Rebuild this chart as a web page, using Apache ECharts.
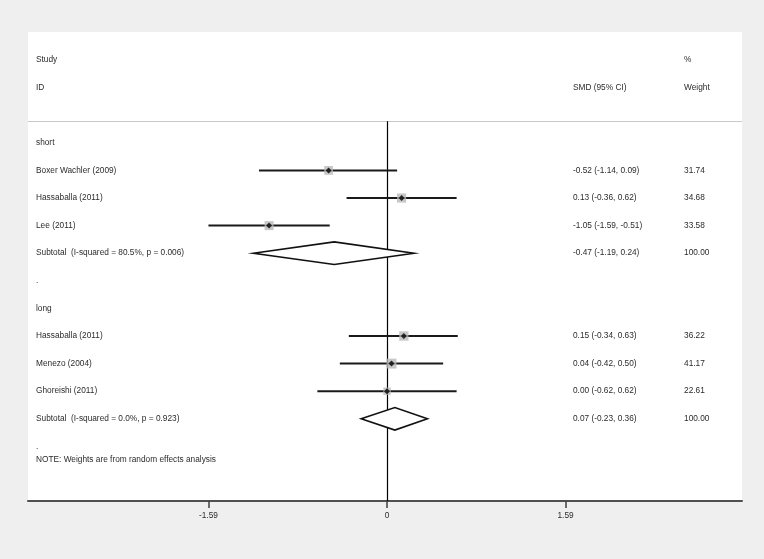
<!DOCTYPE html>
<html>
<head>
<meta charset="utf-8">
<script src="https://cdn.jsdelivr.net/npm/echarts@6/dist/echarts.min.js"></script>
<style>
  html, body { margin: 0; padding: 0; background: #efefef; }
  #chart { width: 764px; height: 559px; }
</style>
</head>
<body>
<div id="chart"></div>
<script>
// ---- data ----
const groupLabels = ["short", "long"];
const groupRows = [3, 9];

const studyLabels = ["Boxer Wachler (2009)", "Hassaballa (2011)", "Lee (2011)",
                     "Hassaballa (2011)", "Menezo (2004)", "Ghoreishi (2011)"];
const studyRows = [4, 5, 6, 10, 11, 12];
const smd = [-0.52, 0.13, -1.05, 0.15, 0.04, 0.00];
const ciLow = [-1.14, -0.36, -1.59, -0.34, -0.42, -0.62];
const ciHigh = [0.09, 0.62, -0.51, 0.63, 0.50, 0.62];
const weights = [31.74, 34.68, 33.58, 36.22, 41.17, 22.61];

const subtotalLabels = ["Subtotal  (I-squared = 80.5%, p = 0.006)",
                        "Subtotal  (I-squared = 0.0%, p = 0.923)"];
const subtotalRows = [7, 13];
const subSmd = [-0.47, 0.07];
const subLow = [-1.19, -0.23];
const subHigh = [0.24, 0.36];
const subWeight = [100.00, 100.00];

const blankRows = [8, 14];
const noteText = "NOTE: Weights are from random effects analysis";
const noteRow = 14.5;

const headerRow1 = ["Study", "", "%"];
const headerRow2 = ["ID", "SMD (95% CI)", "Weight"];

const tickValues = [-1.59, 0, 1.59];
const tickLabels = ["-1.59", "0", "1.59"];

// ---- layout constants (axis units) ----
const X_MIN = -3.1968, X_MAX = 3.1612;
const Y_MIN = -1.0145, Y_MAX = 15.978;
const COL_STUDY = -3.1256, COL_SMD = 1.656, COL_WT = 2.645;
const SEP_ROW = 2.22;
const DIAMOND_HALF = 0.41;

const FONT = "Liberation Sans, Arial, sans-serif";
const TXT = "#2b2b2b";

function fmt(v) { return v.toFixed(2); }

// text items
const textItems = [];
textItems.push([COL_STUDY, 0, headerRow1[0]]);
textItems.push([COL_WT, 0, headerRow1[2]]);
textItems.push([COL_STUDY, 1, headerRow2[0]]);
textItems.push([COL_SMD, 1, headerRow2[1]]);
textItems.push([COL_WT, 1, headerRow2[2]]);
groupLabels.forEach((g, i) => textItems.push([COL_STUDY, groupRows[i], g]));
studyLabels.forEach((s, i) => {
  textItems.push([COL_STUDY, studyRows[i], s]);
  textItems.push([COL_SMD, studyRows[i], fmt(smd[i]) + " (" + fmt(ciLow[i]) + ", " + fmt(ciHigh[i]) + ")"]);
  textItems.push([COL_WT, studyRows[i], fmt(weights[i])]);
});
subtotalLabels.forEach((s, i) => {
  textItems.push([COL_STUDY, subtotalRows[i], s]);
  textItems.push([COL_SMD, subtotalRows[i], fmt(subSmd[i]) + " (" + fmt(subLow[i]) + ", " + fmt(subHigh[i]) + ")"]);
  textItems.push([COL_WT, subtotalRows[i], fmt(subWeight[i])]);
});
blankRows.forEach(r => textItems.push([COL_STUDY, r, "."]));
textItems.push([COL_STUDY, noteRow, noteText]);

const chart = echarts.init(document.getElementById('chart'), null, { renderer: 'canvas' });

const option = {
  animation: false,
  backgroundColor: '#efefef',
  grid: { left: 28, right: 22, top: 32, bottom: 58, show: true, backgroundColor: '#ffffff', borderWidth: 0 },
  xAxis: {
    type: 'value', min: X_MIN, max: X_MAX,
    axisLine: { show: true, onZero: false, lineStyle: { color: '#505050', width: 2 } },
    axisTick: { show: true, customValues: tickValues, length: 7, lineStyle: { color: '#404040', width: 1.5 } },
    axisLabel: {
      show: true, customValues: tickValues, margin: 11,
      color: TXT, fontSize: 8.3, fontFamily: FONT,
      formatter: function (v) { const i = tickValues.indexOf(v); return i >= 0 ? tickLabels[i] : ''; }
    },
    splitLine: { show: false }
  },
  yAxis: { type: 'value', inverse: true, min: Y_MIN, max: Y_MAX, show: false, splitLine: { show: false } },
  series: [
    // separator line
    {
      type: 'custom', silent: true, z: 1,
      data: [[SEP_ROW]],
      renderItem: function (params, api) {
        const a = api.coord([X_MIN, api.value(0)]);
        const b = api.coord([X_MAX, api.value(0)]);
        const y = Math.round(a[1]) + 0.5;
        return { type: 'line', shape: { x1: a[0], y1: y, x2: b[0], y2: y },
                 style: { stroke: '#c8c8c8', lineWidth: 1 } };
      }
    },
    // null line
    {
      type: 'custom', silent: true, z: 2,
      data: [[0, SEP_ROW]],
      renderItem: function (params, api) {
        const a = api.coord([api.value(0), api.value(1)]);
        const b = api.coord([api.value(0), Y_MAX]);
        const x = Math.round(a[0]) + 0.5;
        return { type: 'line', shape: { x1: x, y1: a[1], x2: x, y2: b[1] },
                 style: { stroke: '#000', lineWidth: 1.2 } };
      }
    },
    // CI lines
    {
      type: 'custom', silent: true, z: 3,
      data: studyRows.map((r, i) => [ciLow[i], ciHigh[i], r]),
      renderItem: function (params, api) {
        const a = api.coord([api.value(0), api.value(2)]);
        const b = api.coord([api.value(1), api.value(2)]);
        return { type: 'line', shape: { x1: a[0], y1: a[1], x2: b[0], y2: b[1] },
                 style: { stroke: '#1a1a1a', lineWidth: 2 } };
      }
    },
    // weight squares
    {
      type: 'scatter', silent: true, z: 4,
      symbol: 'rect',
      symbolSize: function (val) { return 1.55 * Math.sqrt(val[2]); },
      itemStyle: { color: '#b9b9b9' },
      data: studyRows.map((r, i) => [smd[i], r, weights[i]])
    },
    // point estimates
    {
      type: 'scatter', silent: true, z: 5,
      symbol: 'diamond', symbolSize: 6,
      itemStyle: { color: '#000' },
      data: studyRows.map((r, i) => [smd[i], r])
    },
    // subtotal diamonds
    {
      type: 'custom', silent: true, z: 6,
      data: subtotalRows.map((r, i) => [subLow[i], subSmd[i], subHigh[i], r]),
      renderItem: function (params, api) {
        const r = api.value(3);
        const p1 = api.coord([api.value(0), r]);
        const p2 = api.coord([api.value(1), r - DIAMOND_HALF]);
        const p3 = api.coord([api.value(2), r]);
        const p4 = api.coord([api.value(1), r + DIAMOND_HALF]);
        return { type: 'polygon', shape: { points: [p1, p2, p3, p4] },
                 style: { fill: '#ffffff', stroke: '#111', lineWidth: 1.6 } };
      }
    },
    // table text
    {
      type: 'custom', silent: true, z: 7,
      data: textItems.map(t => [t[0], t[1]]),
      renderItem: function (params, api) {
        const p = api.coord([api.value(0), api.value(1)]);
        return { type: 'text',
                 style: { text: textItems[params.dataIndex][2], x: p[0], y: p[1],
                          fill: TXT, fontSize: 8.3, fontFamily: FONT,
                          align: 'left', verticalAlign: 'middle' } };
      }
    }
  ]
};
chart.setOption(option);
</script>
</body>
</html>
